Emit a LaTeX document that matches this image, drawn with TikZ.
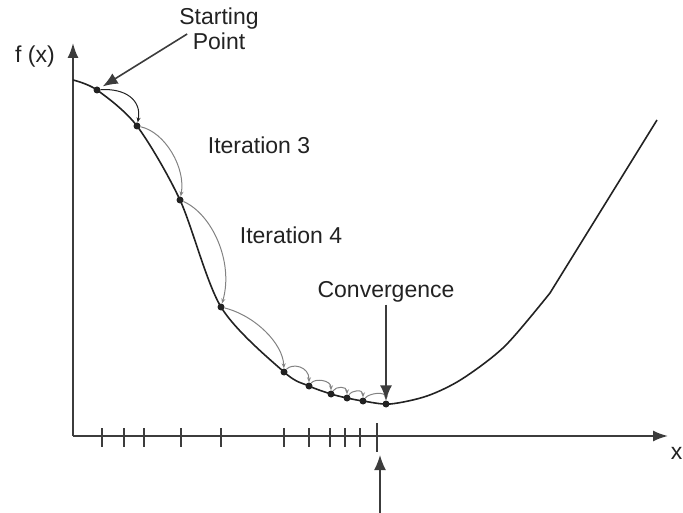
\documentclass[tikz,border=0pt]{standalone}
\usepackage{fontspec}
\setmainfont{Liberation Sans}
\usepackage{xcolor}
\usetikzlibrary{arrows.meta}

\definecolor{gdink}{RGB}{34, 34, 34}
\definecolor{gdaxis}{RGB}{60, 60, 60}
\definecolor{gdstep}{RGB}{130, 130, 130}

\begin{document}
\begin{tikzpicture}[
    x=1pt, y=-1pt,
    dot/.style={circle, fill=gdink, inner sep=0pt, minimum size=7pt},
    lbl/.style={font=\fontsize{23}{25}\selectfont, text=gdink, inner sep=2pt},
    axis/.style={-{Latex[length=15pt,width=11pt]}, line width=1.8pt, color=gdaxis},
    pointer/.style={-{Latex[length=15pt,width=12pt]}, line width=1.6pt, color=gdaxis},
    stepper/.style={-{Stealth[length=5pt,width=4pt]}, line width=1pt, color=gdstep},
    curve/.style={line width=1.6pt, color=gdink},
    tick/.style={line width=1.4pt, color=gdaxis}
  ]
    \useasboundingbox (0,0) rectangle (683,513);

    % axes
    \coordinate (origin) at (73,436);
    \coordinate (ytop)   at (73,43);
    \coordinate (xend)   at (668,436);
    \draw[axis] (origin) -- (ytop);
    \draw[axis] (origin) -- (xend);
    \node[lbl, anchor=east] (fx) at (57,57) {f (x)};
    \node[lbl, anchor=east, inner sep=0.5pt] (xl) at (683,453) {x};

    % the function
    \draw[curve] plot[smooth, tension=0.5] coordinates {
        (73,80) (97,90) (137,126) (180,200) (221,307) (284,372)
        (309,386) (331,394) (347,398) (363,401) (390,404)
        (427,396) (462,379) (505,346) (550,293)} -- (657,120);

    % iterates
    \node[dot] (p1)  at (97,90)   {};
    \node[dot] (p2)  at (137,126) {};
    \node[dot] (p3)  at (180,200) {};
    \node[dot] (p4)  at (221,307) {};
    \node[dot] (p5)  at (284,372) {};
    \node[dot] (p6)  at (309,386) {};
    \node[dot] (p7)  at (331,394) {};
    \node[dot] (p8)  at (347,398) {};
    \node[dot] (p9)  at (363,401) {};
    \node[dot] (p10) at (386,404) {};

    % steps between iterates
    \draw[stepper, color=gdink] (p1) .. controls (125,88) and (142,100) .. (p2);
    \draw[stepper] (p2) .. controls (165,132) and (186,168) .. (p3);
    \draw[stepper] (p3) .. controls (212,214) and (234,262) .. (p4);
    \draw[stepper] (p4) .. controls (256,316) and (283,344) .. (p5);
    \draw[stepper] (p5) .. controls (292,363) and (309,366) .. (p6);
    \draw[stepper] (p6) .. controls (315,378) and (331,380) .. (p7);
    \draw[stepper] (p7) .. controls (336,386) and (347,386) .. (p8);
    \draw[stepper] (p8) .. controls (352,390) and (363,389) .. (p9);
    \draw[stepper] (p9) .. controls (369,393) and (386,391) .. (p10);

    % ticks on the x axis
    \foreach \tx in {102,124,144,181,221,284,309,330,345,360}
      \draw[tick] (\tx,428) -- (\tx,447);
    \draw[tick] (377,423) -- (377,452);

    % labels and pointers
    \node[lbl, align=center] (start) at (219,29) {Starting\\Point};
    \node[lbl] (it3)  at (259,145) {Iteration 3};
    \node[lbl] (it4)  at (291,235) {Iteration 4};
    \node[lbl] (conv) at (386,292) {Convergence};
    \coordinate (below) at (380,513);
    \coordinate (mark)  at (380,455);

    \draw[pointer, shorten >=3pt] ([shift={(10,5)}]start.west) -- (p1);
    \draw[pointer] (conv) -- (p10);
    \draw[pointer] (below) -- (mark);
  \end{tikzpicture}
\end{document}
